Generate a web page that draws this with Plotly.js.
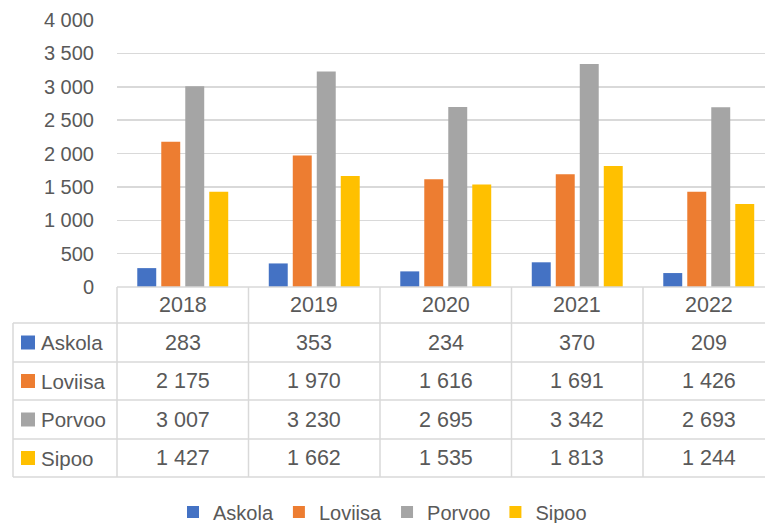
<!DOCTYPE html>
<html>
<head>
<meta charset="utf-8">
<script src="https://cdn.plot.ly/plotly-3.0.1.min.js"></script>
<style>html,body{margin:0;padding:0;background:#fff;}#chart{width:765px;height:523px;}</style>
</head>
<body>
<div id="chart"></div>
<script>
const years = ['2018', '2019', '2020', '2021', '2022'];
const seriesNames = ['Askola', 'Loviisa', 'Porvoo', 'Sipoo'];
const askola = [283, 353, 234, 370, 209];
const loviisa = [2175, 1970, 1616, 1691, 1426];
const porvoo = [3007, 3230, 2695, 3342, 2693];
const sipoo = [1427, 1662, 1535, 1813, 1244];
const yTicks = [0, 500, 1000, 1500, 2000, 2500, 3000, 3500, 4000];
const colors = ['#4472C4', '#ED7D31', '#A5A5A5', '#FFC000'];

const values = [askola, loviisa, porvoo, sipoo];
const fmt = v => String(v).replace(/\B(?=(\d{3})+(?!\d))/g, ' ');

const W = 765, H = 523;
const plotL = 117, plotT = 20, plotB = 287;
const plotW = W - plotL, plotH = plotB - plotT;
const catW = 131.5;
const px2x = px => (px - plotL) / plotW;
const py2y = py => (plotB - py) / plotH;
const rowEdges = [287, 323, 362, 400, 439, 477];
const leftEdge = 13;
const gridColor = '#d9d9d9';
const textColor = '#595959';
const FONT = 'Liberation Sans, Arial, sans-serif';
const cellFont = {family: FONT, size: 21.5, color: textColor};
const labelFont = {family: FONT, size: 20.5, color: textColor};

const traces = seriesNames.map((n, i) => ({
  type: 'bar', name: n, x: years, y: values[i],
  marker: {color: colors[i]}, hoverinfo: 'x+y+name'
}));

const shapes = [];
const annotations = [];
const line = {color: gridColor, width: 1.5};
// top border of table (axis baseline)
shapes.push({type: 'line', xref: 'paper', yref: 'paper', x0: 0, x1: 1, y0: py2y(rowEdges[0]), y1: py2y(rowEdges[0]), line});
// horizontal row lines
for (let r = 1; r < rowEdges.length; r++) {
  shapes.push({type: 'line', xref: 'paper', yref: 'paper', x0: px2x(leftEdge), x1: 1, y0: py2y(rowEdges[r]), y1: py2y(rowEdges[r]), line});
}
// left vertical borders
shapes.push({type: 'line', xref: 'paper', yref: 'paper', x0: px2x(leftEdge), x1: px2x(leftEdge), y0: py2y(rowEdges[1]), y1: py2y(rowEdges[5]), line});
shapes.push({type: 'line', xref: 'paper', yref: 'paper', x0: 0, x1: 0, y0: py2y(rowEdges[0]), y1: py2y(rowEdges[5]), line});
// category separators
for (let c = 0; c < years.length - 1; c++) {
  shapes.push({type: 'line', xref: 'x', yref: 'paper', x0: c + 0.5, x1: c + 0.5, y0: py2y(rowEdges[0]), y1: py2y(rowEdges[5]), line});
}
// header row years
years.forEach((yr, c) => {
  annotations.push({xref: 'x', yref: 'paper', x: c, y: py2y((rowEdges[0] + rowEdges[1]) / 2),
    text: yr, showarrow: false, xanchor: 'center', yanchor: 'middle', font: cellFont});
});
// rows
seriesNames.forEach((n, i) => {
  const cy = (rowEdges[i + 1] + rowEdges[i + 2]) / 2;
  shapes.push({type: 'rect', xref: 'paper', yref: 'paper', x0: px2x(21), x1: px2x(35), y0: py2y(cy - 7), y1: py2y(cy + 7),
    fillcolor: colors[i], line: {width: 0}});
  annotations.push({xref: 'paper', yref: 'paper', x: px2x(39), y: py2y(cy), text: n, showarrow: false,
    xanchor: 'left', yanchor: 'middle', font: labelFont});
  years.forEach((yr, c) => {
    annotations.push({xref: 'x', yref: 'paper', x: c, y: py2y(cy), text: fmt(values[i][c]), showarrow: false,
      xanchor: 'center', yanchor: 'middle', font: cellFont});
  });
});

const layout = {
  width: W, height: H,
  margin: {l: plotL, r: 0, t: plotT, b: H - plotB, pad: 0},
  paper_bgcolor: '#ffffff', plot_bgcolor: '#ffffff',
  separators: ', ',
  barmode: 'group', bargap: 0.27, bargroupgap: 0.21,
  showlegend: true,
  legend: {orientation: 'h', xref: 'container', yref: 'container', x: 0.5, xanchor: 'center', y: (H - 512) / H, yanchor: 'middle',
    font: {family: FONT, size: 20, color: textColor}, itemwidth: 30, traceorder: 'normal'},
  xaxis: {type: 'category', range: [-0.5, -0.5 + plotW / catW], showticklabels: false, showgrid: false, zeroline: false, showline: false, ticks: ''},
  yaxis: {range: [0, 4000], tickvals: yTicks, tickformat: ',d', showgrid: true, gridcolor: gridColor, gridwidth: 1.5,
    zeroline: false, showline: false, ticks: '', ticklabelstandoff: 22,
    tickfont: {family: FONT, size: 20, color: textColor}},
  shapes, annotations,
  font: {family: FONT, color: textColor}
};

Plotly.newPlot('chart', traces, layout, {displayModeBar: false, staticPlot: true});
</script>
</body>
</html>
